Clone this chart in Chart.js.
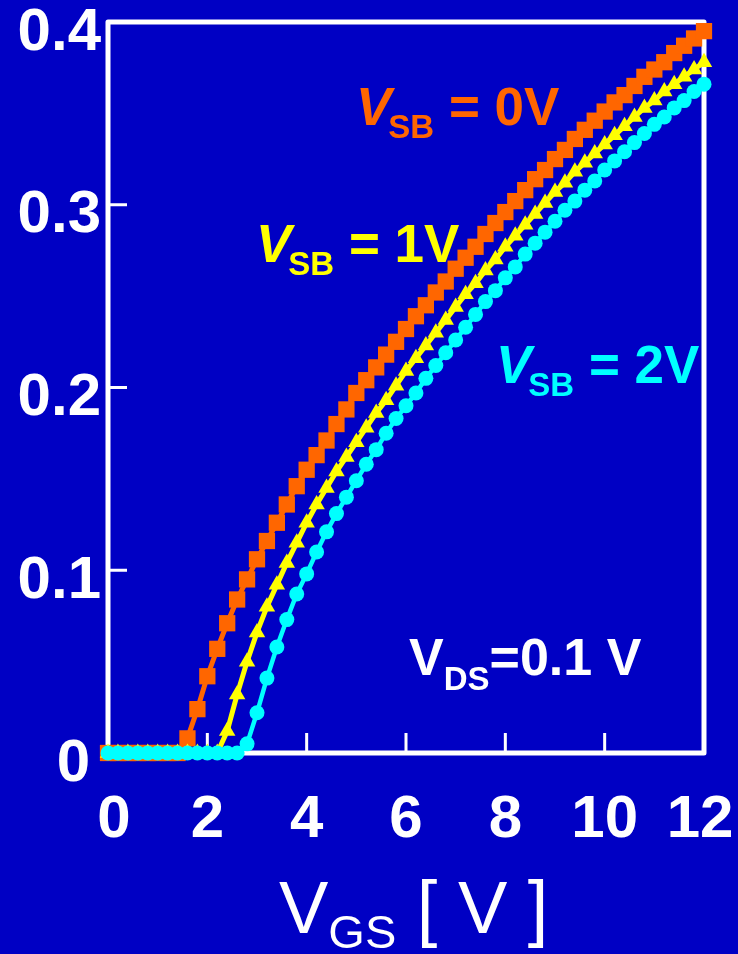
<!DOCTYPE html>
<html>
<head>
<meta charset="utf-8">
<script src="https://cdn.jsdelivr.net/npm/chart.js@4.4.1/dist/chart.umd.min.js"></script>
<style>
    html, body { margin: 0; padding: 0; background: #0000C4; }
    #chart-idvgs { display: block; }
</style>
</head>
<body>
<canvas id="chart-idvgs" width="738" height="954"></canvas>
<script>

// gate voltage sweep (V)
var vgs = [
    0, 0.2, 0.4, 0.6, 0.8, 1.0, 1.2, 1.4, 1.6, 1.8,
    2.0, 2.2, 2.4, 2.6, 2.8, 3.0, 3.2, 3.4, 3.6, 3.8,
    4.0, 4.2, 4.4, 4.6, 4.8, 5.0, 5.2, 5.4, 5.6, 5.8,
    6.0, 6.2, 6.4, 6.6, 6.8, 7.0, 7.2, 7.4, 7.6, 7.8,
    8.0, 8.2, 8.4, 8.6, 8.8, 9.0, 9.2, 9.4, 9.6, 9.8,
    10.0, 10.2, 10.4, 10.6, 10.8, 11.0, 11.2, 11.4, 11.6, 11.8,
    12.0
];

// drain current, VSB = 0 V
var idVsb0 = [
    0, 0, 0, 0, 0, 0, 0, 0, 0.008, 0.024,
    0.042, 0.057, 0.071, 0.084, 0.095, 0.106, 0.116, 0.126, 0.136, 0.146,
    0.155, 0.163, 0.171, 0.180, 0.188, 0.197, 0.204, 0.211, 0.218, 0.225,
    0.232, 0.239, 0.245, 0.252, 0.258, 0.265, 0.271, 0.277, 0.284, 0.290,
    0.296, 0.302, 0.308, 0.314, 0.319, 0.325, 0.330, 0.336, 0.341, 0.346,
    0.351, 0.356, 0.360, 0.365, 0.370, 0.374, 0.378, 0.383, 0.387, 0.391,
    0.395
];

// drain current, VSB = 1 V
var idVsb1 = [
    0, 0, 0, 0, 0, 0, 0, 0, 0, 0,
    0, 0, 0.012, 0.032, 0.050, 0.066, 0.080, 0.092, 0.104, 0.115,
    0.126, 0.136, 0.145, 0.154, 0.162, 0.170, 0.178, 0.186, 0.193, 0.201,
    0.209, 0.216, 0.223, 0.230, 0.237, 0.244, 0.251, 0.257, 0.264, 0.270,
    0.277, 0.283, 0.289, 0.295, 0.301, 0.307, 0.312, 0.318, 0.323, 0.328,
    0.333, 0.338, 0.343, 0.348, 0.353, 0.357, 0.362, 0.366, 0.370, 0.374,
    0.378
];

// drain current, VSB = 2 V
var idVsb2 = [
    0, 0, 0, 0, 0, 0, 0, 0, 0, 0,
    0, 0, 0, 0, 0.005, 0.022, 0.041, 0.058, 0.073, 0.087,
    0.098, 0.110, 0.121, 0.131, 0.140, 0.149, 0.158, 0.166, 0.175, 0.183,
    0.190, 0.197, 0.205, 0.212, 0.219, 0.226, 0.233, 0.240, 0.247, 0.253,
    0.260, 0.266, 0.273, 0.279, 0.285, 0.291, 0.297, 0.302, 0.308, 0.313,
    0.319, 0.324, 0.329, 0.334, 0.339, 0.344, 0.348, 0.353, 0.357, 0.362,
    0.366
];

var xTicks = [0, 2, 4, 6, 8, 10, 12];
var yTicks = [0, 0.1, 0.2, 0.3, 0.4];
var yTickLabels = ['0', '0.1', '0.2', '0.3', '0.4'];


function toPoints(ys) {
    return vgs.map((v, i) => ({ x: v, y: ys[i] }));
}

// draws a run of text pieces, each with its own font and baseline shift
function drawRuns(ctx, x, y, color, runs) {
    ctx.save();
    ctx.fillStyle = color;
    ctx.textAlign = 'left';
    ctx.textBaseline = 'alphabetic';
    runs.forEach(run => {
        ctx.font = run.font;
        ctx.fillText(run.text, x, y + (run.dy || 0));
        x += ctx.measureText(run.text).width + (run.gap || 0);
    });
    ctx.restore();
}

// white box, inward ticks and the tick labels
var framePlugin = {
    id: 'frame',
    beforeDatasetsDraw: function (chart) {
        var ctx = chart.ctx;
        var a = chart.chartArea;
        var xs = chart.scales.x;
        var ys = chart.scales.y;

        ctx.save();
        ctx.strokeStyle = '#ffffff';
        ctx.lineWidth = 5;
        ctx.lineJoin = 'round';
        ctx.strokeRect(a.left, a.top, a.right - a.left, a.bottom - a.top);

        ctx.lineWidth = 3;
        ctx.beginPath();
        xTicks.slice(1, -1).forEach(v => {
            var px = xs.getPixelForValue(v);
            ctx.moveTo(px, a.bottom);
            ctx.lineTo(px, a.bottom - 20);
        });
        yTicks.slice(1, -1).forEach(v => {
            var py = ys.getPixelForValue(v);
            ctx.moveTo(a.left, py);
            ctx.lineTo(a.left + 19, py);
        });
        ctx.stroke();

        ctx.fillStyle = '#ffffff';
        ctx.font = 'bold 60px "Liberation Sans", Arial, sans-serif';
        ctx.textBaseline = 'middle';
        ctx.textAlign = 'right';
        yTicks.forEach((v, i) => {
            var right = v === 0 ? 90 : 101;
            ctx.fillText(yTickLabels[i], right, ys.getPixelForValue(v) + 11);
        });

        ctx.textAlign = 'center';
        ctx.textBaseline = 'alphabetic';
        xTicks.forEach((v, i) => {
            // end labels sit a little inside their ticks
            var nudge = i === 0 ? 6 : (i === xTicks.length - 1 ? -4 : 0);
            ctx.fillText(String(v), xs.getPixelForValue(v) + nudge, 837);
        });
        ctx.restore();
    },
    afterDraw: function (chart) {
        var ctx = chart.ctx;
        var sans = '"Liberation Sans", Arial, sans-serif';

        // x axis title
        drawRuns(ctx, 279, 933, '#ffffff', [
            { text: 'V', font: '74px ' + sans },
            { text: 'GS', font: '47px ' + sans, dy: 15 },
            { text: ' [ V ]', font: '74px ' + sans }
        ]);

        drawRuns(ctx, 356, 125, '#FF6600', [
            { text: 'V', font: 'italic bold 53px ' + sans, gap: -3 },
            { text: 'SB', font: 'bold 33px ' + sans, dy: 13 },
            { text: ' = 0V', font: 'bold 53px ' + sans }
        ]);
        drawRuns(ctx, 256, 262, '#FFFF00', [
            { text: 'V', font: 'italic bold 53px ' + sans, gap: -3 },
            { text: 'SB', font: 'bold 33px ' + sans, dy: 13 },
            { text: ' = 1V', font: 'bold 53px ' + sans }
        ]);
        drawRuns(ctx, 496, 383, '#00FFFF', [
            { text: 'V', font: 'italic bold 53px ' + sans, gap: -3 },
            { text: 'SB', font: 'bold 33px ' + sans, dy: 13 },
            { text: ' = 2V', font: 'bold 53px ' + sans }
        ]);
        drawRuns(ctx, 409, 675, '#ffffff', [
            { text: 'V', font: 'bold 52px ' + sans },
            { text: 'DS', font: 'bold 33px ' + sans, dy: 15 },
            { text: '=0.1 V', font: 'bold 52px ' + sans }
        ]);
    }
};


function drawIdVgsChart() {

    new Chart(
        document.getElementById('chart-idvgs'),
        {
            type: 'line',
            data: {
                datasets: [
                    {
                        label: 'VSB = 0V',
                        data: toPoints(idVsb0),
                        borderColor: '#FF6600',
                        backgroundColor: '#FF6600',
                        borderWidth: 5,
                        pointStyle: 'rect',
                        pointRadius: 11.5,
                        pointBorderWidth: 0,
                        order: 3
                    },
                    {
                        label: 'VSB = 1V',
                        data: toPoints(idVsb1),
                        borderColor: '#FFFF00',
                        backgroundColor: '#FFFF00',
                        borderWidth: 5,
                        pointStyle: 'triangle',
                        pointRadius: 9.5,
                        pointBorderWidth: 0,
                        order: 2
                    },
                    {
                        label: 'VSB = 2V',
                        data: toPoints(idVsb2),
                        borderColor: '#00FFFF',
                        backgroundColor: '#00FFFF',
                        borderWidth: 4.5,
                        pointStyle: 'circle',
                        pointRadius: 7.5,
                        pointBorderWidth: 0,
                        order: 1
                    }
                ]
            },
            options: {
                responsive: false,
                animation: false,
                clip: false,
                layout: {
                    padding: { left: 108, top: 22, right: 34, bottom: 201 }
                },
                elements: {
                    line: { tension: 0 }
                },
                plugins: {
                    legend: { display: false },
                    tooltip: { enabled: false }
                },
                scales: {
                    x: { type: 'linear', min: 0, max: 12, display: false },
                    y: { type: 'linear', min: 0, max: 0.4, display: false }
                }
            },
            plugins: [framePlugin]
        }
    );

}

drawIdVgsChart();

</script>
</body>
</html>
